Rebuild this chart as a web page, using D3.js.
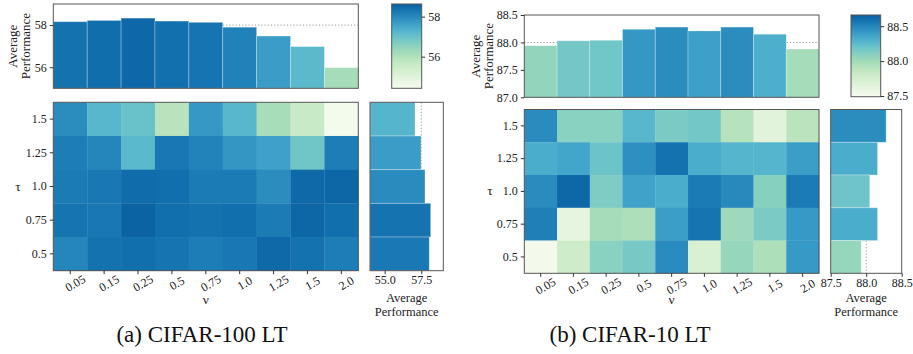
<!DOCTYPE html>
<html>
<head>
<meta charset="utf-8">
<script src="https://cdn.jsdelivr.net/npm/d3@7"></script>
<style>
  body { margin: 0; background: #fff; }
  svg text { font-family: 'Liberation Serif', 'Times New Roman', 'DejaVu Serif', serif; }
</style>
</head>
<body>
<svg id="chart" width="913" height="354"></svg>
<script>
// categories
const nuLabels = ['0.05', '0.15', '0.25', '0.5', '0.75', '1.0', '1.25', '1.5', '2.0']
const tauLabels = ['1.5', '1.25', '1.0', '0.75', '0.5'] // top -> bottom

// CIFAR-100 LT (rows follow tauLabels)
const c100Heat = [
  [57.93, 57.22, 56.99, 55.90, 57.74, 57.22, 56.14, 55.58, 54.49],
  [58.16, 58.02, 57.17, 58.25, 58.07, 57.78, 57.60, 56.89, 58.16],
  [58.21, 58.25, 58.44, 58.40, 58.21, 58.21, 57.93, 58.49, 58.54],
  [58.30, 58.25, 58.58, 58.40, 58.35, 58.40, 58.21, 58.54, 58.40],
  [58.02, 58.35, 58.40, 58.30, 58.16, 58.25, 58.49, 58.35, 58.16]
]
const c100ByNu = [58.16, 58.22, 58.33, 58.19, 58.13, 57.90, 57.48, 56.98, 55.98]
const c100ByTau = [57.07, 57.48, 57.75, 58.14, 58.04]
const c100TopTicks = [56, 58]
const c100SideTicks = [55.0, 57.5]
const c100CbarTicks = [56, 58]

// CIFAR-10 LT
const c10Heat = [
  [88.47, 88.09, 88.09, 88.27, 88.14, 88.17, 87.91, 87.65, 87.89],
  [88.32, 88.36, 88.19, 88.45, 88.58, 88.32, 88.28, 88.28, 88.39],
  [88.47, 88.63, 88.13, 88.37, 88.32, 88.54, 88.48, 88.10, 88.54],
  [88.52, 87.62, 87.98, 87.95, 88.39, 88.57, 88.01, 88.14, 88.41],
  [87.52, 87.78, 88.09, 88.15, 88.47, 87.71, 88.04, 87.95, 88.41]
]
const c10ByNu = [87.94, 88.03, 88.04, 88.24, 88.28, 88.21, 88.28, 88.15, 87.88]
const c10ByTau = [88.28, 88.16, 88.05, 88.16, 87.93]
const c10TopTicks = [87.0, 87.5, 88.0, 88.5]
const c10SideTicks = [87.5, 88.0, 88.5]
const c10CbarTicks = [87.5, 88.0, 88.5]

const SPINE = '#555'
const FONT = 12
const SERIF = "'Liberation Serif', 'Times New Roman', 'DejaVu Serif', serif"

const svg = d3.select('#chart')

let styleAxis = function (ax) {
  ax.attr('font-family', SERIF).attr('font-size', FONT)
  ax.select('.domain').remove()
  ax.selectAll('line').attr('stroke', '#333')
  ax.selectAll('text').attr('fill', '#222')
  return ax
}

let drawPanel = function (cfg) {
  const g = svg.append('g').attr('font-family', SERIF)
  const heatColor = d3.scaleSequential(d3.interpolateGnBu).domain(cfg.heatDomain)
  const barColor = d3.scaleSequential(d3.interpolateGnBu).domain(cfg.barDomain)

  // ---- top bar chart (mean over tau for each nu)
  const T = cfg.top
  const xTop = d3.scaleBand().domain(nuLabels).range([T.x0, T.x1]).padding(0)
  const yTop = d3.scaleLinear().domain(cfg.topDomain).range([T.y1, T.y0])
  const top = g.append('g')
  top.append('line')
    .attr('x1', T.x0).attr('x2', T.x1)
    .attr('y1', yTop(cfg.topRef)).attr('y2', yTop(cfg.topRef))
    .attr('stroke', '#999').attr('stroke-dasharray', '1.2,2').attr('stroke-width', 1)
  top.selectAll('rect.bar').data(cfg.byNu).join('rect')
    .attr('x', (d, i) => xTop(nuLabels[i]))
    .attr('width', xTop.bandwidth())
    .attr('y', d => yTop(d))
    .attr('height', d => T.y1 - yTop(d))
    .attr('fill', d => barColor(d))
    .attr('stroke', 'rgba(255,255,255,0.35)').attr('stroke-width', 0.8)
  top.append('rect')
    .attr('x', T.x0).attr('y', T.y0).attr('width', T.x1 - T.x0).attr('height', T.y1 - T.y0)
    .attr('fill', 'none').attr('stroke', SPINE)
  styleAxis(top.append('g').attr('transform', `translate(${T.x0},0)`)
    .call(d3.axisLeft(yTop).tickValues(cfg.topTicks).tickSize(3.5).tickPadding(3)
      .tickFormat(cfg.topFmt)))
  const ylab = top.append('text')
    .attr('transform', `translate(${cfg.topLabelX},${(T.y0 + T.y1) / 2}) rotate(-90)`)
    .attr('text-anchor', 'middle').attr('font-size', 13).attr('fill', '#222')
  ylab.append('tspan').attr('x', 0).attr('dy', 0).text('Average')
  ylab.append('tspan').attr('x', 0).attr('dy', 13).text('Performance')

  // ---- colorbar
  const C = cfg.cbar
  const yCb = d3.scaleLinear().domain(cfg.cbarDomain).range([C.y1, C.y0])
  const gradId = cfg.id + '-grad'
  const grad = g.append('defs').append('linearGradient').attr('id', gradId)
    .attr('x1', 0).attr('x2', 0).attr('y1', 1).attr('y2', 0)
  d3.range(0, 1.0001, 0.05).forEach(t => {
    const v = cfg.cbarDomain[0] + t * (cfg.cbarDomain[1] - cfg.cbarDomain[0])
    grad.append('stop').attr('offset', t).attr('stop-color', heatColor(v))
  })
  g.append('rect')
    .attr('x', C.x0).attr('y', C.y0).attr('width', C.x1 - C.x0).attr('height', C.y1 - C.y0)
    .attr('fill', `url(#${gradId})`).attr('stroke', SPINE)
  styleAxis(g.append('g').attr('transform', `translate(${C.x1},0)`)
    .call(d3.axisRight(yCb).tickValues(cfg.cbarTicks).tickSize(3.5).tickPadding(3)
      .tickFormat(cfg.cbarFmt)))

  // ---- heatmap
  const H = cfg.heat
  const xH = d3.scaleBand().domain(nuLabels).range([H.x0, H.x1])
  const yH = d3.scaleBand().domain(tauLabels).range([H.y0, H.y1])
  const cells = []
  cfg.heatData.forEach((row, r) => row.forEach((v, c) => cells.push({ tau: tauLabels[r], nu: nuLabels[c], v })))
  g.append('g').selectAll('rect').data(cells).join('rect')
    .attr('x', d => xH(d.nu)).attr('y', d => yH(d.tau))
    .attr('width', xH.bandwidth() + 0.3).attr('height', yH.bandwidth() + 0.3)
    .attr('fill', d => heatColor(d.v))
  g.append('rect')
    .attr('x', H.x0).attr('y', H.y0).attr('width', H.x1 - H.x0).attr('height', H.y1 - H.y0)
    .attr('fill', 'none').attr('stroke', SPINE)
  const hx = styleAxis(g.append('g').attr('transform', `translate(0,${H.y1})`)
    .call(d3.axisBottom(xH).tickSize(3.5).tickPadding(2)))
  hx.selectAll('text')
    .attr('text-anchor', 'middle')
    .attr('transform', 'translate(0,4) rotate(-30)')
  styleAxis(g.append('g').attr('transform', `translate(${H.x0},0)`)
    .call(d3.axisLeft(yH).tickSize(3.5).tickPadding(3)))
  g.append('text').attr('x', cfg.tauX).attr('y', (H.y0 + H.y1) / 2 + 4)
    .attr('text-anchor', 'middle').attr('font-size', 13.5).attr('fill', '#222').text('τ')
  g.append('text').attr('x', (H.x0 + H.x1) / 2).attr('y', 304)
    .attr('text-anchor', 'middle').attr('font-size', 13.5).attr('fill', '#222').text('ν')

  // ---- side bar chart (mean over nu for each tau)
  const S = cfg.side
  const xS = d3.scaleLinear().domain(cfg.sideDomain).range([S.x0, S.x1])
  const yS = d3.scaleBand().domain(tauLabels).range([S.y0, S.y1])
  g.append('line')
    .attr('x1', xS(cfg.sideRef)).attr('x2', xS(cfg.sideRef))
    .attr('y1', S.y0).attr('y2', S.y1)
    .attr('stroke', '#999').attr('stroke-dasharray', '1.2,2').attr('stroke-width', 1)
  g.append('g').selectAll('rect').data(cfg.byTau).join('rect')
    .attr('x', S.x0).attr('y', (d, i) => yS(tauLabels[i]))
    .attr('width', d => xS(d) - S.x0).attr('height', yS.bandwidth())
    .attr('fill', d => barColor(d))
    .attr('stroke', 'rgba(255,255,255,0.35)').attr('stroke-width', 0.8)
  g.append('rect')
    .attr('x', S.x0).attr('y', S.y0).attr('width', S.x1 - S.x0).attr('height', S.y1 - S.y0)
    .attr('fill', 'none').attr('stroke', SPINE)
  styleAxis(g.append('g').attr('transform', `translate(0,${S.y1})`)
    .call(d3.axisBottom(xS).tickValues(cfg.sideTicks).tickSize(3.5).tickPadding(1.5).tickFormat(d3.format('.1f'))))
  const slab = g.append('text').attr('x', (S.x0 + S.x1) / 2).attr('y', 302)
    .attr('text-anchor', 'middle').attr('font-size', 12.5).attr('fill', '#222')
  slab.append('tspan').attr('x', (S.x0 + S.x1) / 2).text('Average')
  slab.append('tspan').attr('x', (S.x0 + S.x1) / 2).attr('dy', 14).text('Performance')

  // ---- caption
  g.append('text').attr('x', cfg.captionX).attr('y', 342)
    .attr('text-anchor', 'middle').attr('font-size', 23).attr('fill', '#111').text(cfg.caption)
}

drawPanel({
  id: 'c100',
  heatData: c100Heat, byNu: c100ByNu, byTau: c100ByTau,
  heatDomain: [54.4, 59.1], barDomain: [54.22, 58.91], cbarDomain: [54.42, 58.63],
  top: { x0: 53.3, x1: 358.3, y0: 4, y1: 88.3 },
  cbar: { x0: 391.7, x1: 421.7, y0: 4, y1: 88.3 },
  heat: { x0: 53.3, x1: 358.3, y0: 102.3, y1: 270.7 },
  side: { x0: 370, x1: 443.3, y0: 102.3, y1: 270.7 },
  topDomain: [55, 59], topTicks: c100TopTicks, topFmt: d3.format('d'), topRef: 58.0,
  cbarTicks: c100CbarTicks, cbarFmt: d3.format('d'),
  sideDomain: [54, 59], sideTicks: c100SideTicks, sideRef: 57.5,
  topLabelX: 17, tauX: 18,
  caption: '(a) CIFAR-100 LT', captionX: 202
})

drawPanel({
  id: 'c10',
  heatData: c10Heat, byNu: c10ByNu, byTau: c10ByTau,
  heatDomain: [87.49, 88.79], barDomain: [87.47, 88.55], cbarDomain: [87.49, 88.66],
  top: { x0: 524.3, x1: 819, y0: 15, y1: 97.3 },
  cbar: { x0: 851, x1: 880.7, y0: 15, y1: 96.7 },
  heat: { x0: 524.3, x1: 819, y0: 109.5, y1: 273.3 },
  side: { x0: 830.7, x1: 901.7, y0: 109.5, y1: 273.3 },
  topDomain: [87, 88.5], topTicks: c10TopTicks, topFmt: d3.format('.1f'), topRef: 88.0,
  cbarTicks: c10CbarTicks, cbarFmt: d3.format('.1f'),
  sideDomain: [87.5, 88.5], sideTicks: c10SideTicks, sideRef: 88.0,
  topLabelX: 480, tauX: 490,
  caption: '(b) CIFAR-10 LT', captionX: 630
})
</script>
</body>
</html>
